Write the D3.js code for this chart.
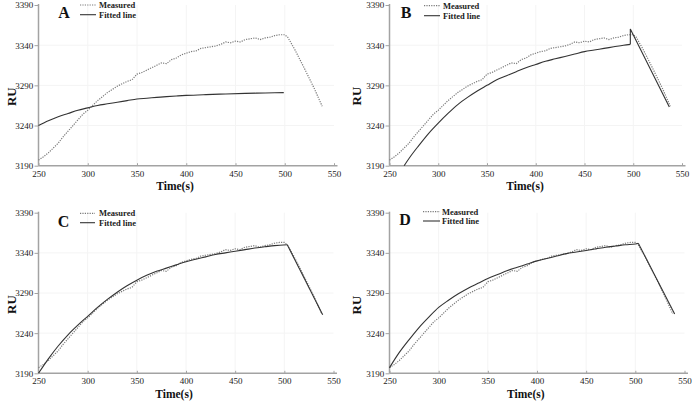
<!DOCTYPE html>
<html><head><meta charset="utf-8">
<script src="https://cdn.jsdelivr.net/npm/d3@7"></script>
<style>html,body{margin:0;padding:0;background:#fff;} svg{display:block;}</style>
</head><body>
<svg id="chart" width="693" height="403"></svg>
<script>
// ---------- data ----------
const measuredTime = [250,255,260,265,270,275,280,285,290,295,300,305,310,315,320,325,330,335,340,345,350,355,360,365,370,375,380,385,390,395,400,405,410,415,420,425,430,435,440,445,450,455,460,465,470,475,480,485,490,495,500,503,510,520,530,538];
const measuredRU   = [3197,3201,3206,3212,3218,3226,3233,3240,3247,3254,3259,3265,3271,3276,3281,3285,3289,3292,3295,3297,3304,3306,3309,3312,3315,3318,3317,3322,3324,3328,3330,3332,3333,3336,3337,3338,3339,3341,3344,3343,3345,3344,3347,3348,3349,3347,3349,3350,3352,3353,3353,3350,3335,3311,3286,3264];

const fitTimeA = [250,260,270,280,290,300,310,320,330,340,350,360,370,380,390,400,420,440,460,480,499];
const fitRUA   = [3240,3246,3251,3255,3259,3262,3265,3267,3269,3271,3273,3274,3275,3276,3276.8,3277.5,3278.5,3279.3,3280,3280.5,3281];

const fitTimeB = [265,270,280,290,300,310,320,330,340,350,360,370,380,390,400,410,420,430,440,450,460,470,480,490,497,497,537];
const fitRUB   = [3190,3199,3215,3230,3243,3255,3266,3275,3283,3290,3297,3302,3307,3312,3316,3320,3323,3326,3329,3332,3334,3336,3338,3340,3341,3360,3263];

const fitTimeC = [250,260,270,280,290,300,310,320,330,340,350,360,370,380,390,400,410,420,430,440,450,460,470,480,490,503,539];
const fitRUC   = [3190,3208,3224,3238,3250,3261,3272,3282,3291,3299,3306,3312,3317,3321,3325,3329,3332,3335,3338,3340,3342,3344,3346,3347.5,3349,3350,3263];

const fitTimeD = [250,260,270,280,290,300,310,320,330,340,350,360,370,380,390,400,410,420,430,440,450,460,470,480,490,500,503,540];
const fitRUD   = [3197,3216,3232,3247,3260,3272,3281,3289,3296,3302,3308,3313,3318,3322,3326,3330,3333,3336,3339,3341,3343,3345,3347,3348.5,3350,3351,3352,3264];

const xTicks = [250,300,350,400,450,500,550];
const yTicks = [3190,3240,3290,3340,3390];
const panelLetters = ["A","B","C","D"];
const legendLabels = ["Measured","Fitted line"];
const xTitle = "Time(s)";
const yTitle = "RU";

// ---------- layout ----------
const layout = [
  {x0:38.5, x1:334,   yb:165.7, yt:5,     letter:[64,17.5],   leg:{lx1:80, lx2:96, y1:5,     y2:14.7, tx:99},  xt:[175,190],   yt2:[12,96.7]},
  {x0:389.5,x1:682,   yb:165.7, yt:5,     letter:[406,17.7],  leg:{lx1:424,lx2:440,y1:5.7,   y2:15.7, tx:443}, xt:[525,190],   yt2:[357,96]},
  {x0:38.5, x1:333.5, yb:373.3, yt:212.7, letter:[63.5,226.7],leg:{lx1:80, lx2:95, y1:213.3, y2:222.7,tx:99},  xt:[174,397.5], yt2:[12,304.5]},
  {x0:389.5,x1:684.5, yb:373.3, yt:212.7, letter:[405,225],   leg:{lx1:423,lx2:440,y1:211.7, y2:221,  tx:442}, xt:[525.8,398], yt2:[356.5,305]}
];
const fits = [[fitTimeA,fitRUA],[fitTimeB,fitRUB],[fitTimeC,fitRUC],[fitTimeD,fitRUD]];

const FONT = "'Liberation Serif','Times New Roman',serif";
const measColor = "#7a7a7a", fitColor = "#333", axisColor = "#a3a3a3";
const svg = d3.select("#chart");

// split a fitted series into the smooth association phase and the straight remainder
function splitFit(ts, vs) {
  let k = 1;
  while (k < ts.length && ts[k] > ts[k-1] && vs[k] >= vs[k-1]) k++;
  const pts = ts.map((t,j)=>[t, vs[j]]);
  return { rise: pts.slice(0, k), rest: pts.slice(k - 1) };
}

layout.forEach((L, i) => {
  const x = d3.scaleLinear().domain([250,550]).range([L.x0, L.x1]);
  const y = d3.scaleLinear().domain([3190,3390]).range([L.yb, L.yt]);
  const g = svg.append("g");

  // faint grid
  g.selectAll(".gx").data(xTicks.slice(1,-1)).enter().append("line")
    .attr("x1", d=>x(d)).attr("x2", d=>x(d)).attr("y1", L.yt).attr("y2", L.yb)
    .attr("stroke", "#f4f4f4").attr("stroke-width", 1);
  g.selectAll(".gy").data(yTicks.slice(1,-1)).enter().append("line")
    .attr("x1", L.x0).attr("x2", L.x1).attr("y1", d=>y(d)).attr("y2", d=>y(d))
    .attr("stroke", "#f4f4f4").attr("stroke-width", 1);

  // axes
  const ax = g.append("g").attr("transform", `translate(0,${L.yb})`)
    .call(d3.axisBottom(x).tickValues(xTicks).tickSize(-2.5).tickSizeOuter(0).tickPadding(4.5).tickFormat(d3.format("d")));
  const ay = g.append("g").attr("transform", `translate(${L.x0},0)`)
    .call(d3.axisLeft(y).tickValues(yTicks).tickSize(4).tickSizeOuter(0).tickPadding(1.2).tickFormat(d3.format("d")));
  [ax, ay].forEach(a => {
    a.select(".domain").remove();
    a.selectAll("line").attr("stroke", axisColor).attr("stroke-width", 1);
    a.selectAll("text").attr("font-family", FONT).attr("font-size", 9).attr("fill", "#222");
  });
  g.append("line").attr("x1", L.x0).attr("x2", L.x1 + 3.5).attr("y1", L.yb).attr("y2", L.yb)
    .attr("stroke", axisColor).attr("stroke-width", 1.5);
  g.append("line").attr("x1", L.x0).attr("x2", L.x0).attr("y1", L.yt - 1).attr("y2", L.yb)
    .attr("stroke", axisColor).attr("stroke-width", 1.5);

  // lines
  const straight = d3.line().x(d=>x(d[0])).y(d=>y(d[1]));
  const smooth = d3.line().x(d=>x(d[0])).y(d=>y(d[1])).curve(d3.curveMonotoneX);
  const meas = measuredTime.map((t,k)=>[t, measuredRU[k]]);
  g.append("path").attr("d", straight(meas)).attr("fill","none")
    .attr("stroke", measColor).attr("stroke-width", 1.2).attr("stroke-dasharray", "1.2,1.2");
  const parts = splitFit(fits[i][0], fits[i][1]);
  g.append("path").attr("d", smooth(parts.rise)).attr("fill","none")
    .attr("stroke", fitColor).attr("stroke-width", 1.1);
  if (parts.rest.length > 1) {
    g.append("path").attr("d", straight(parts.rest)).attr("fill","none")
      .attr("stroke", fitColor).attr("stroke-width", 1.1);
  }

  // panel letter
  g.append("text").attr("x", L.letter[0]).attr("y", L.letter[1]).attr("text-anchor","middle")
    .attr("font-family", FONT).attr("font-weight","bold").attr("font-size", 16).attr("fill","#111")
    .text(panelLetters[i]);

  // legend
  const lg = L.leg;
  g.append("line").attr("x1", lg.lx1).attr("x2", lg.lx2).attr("y1", lg.y1).attr("y2", lg.y1)
    .attr("stroke", measColor).attr("stroke-width", 1.2).attr("stroke-dasharray", "1.2,1.2");
  g.append("line").attr("x1", lg.lx1).attr("x2", lg.lx2).attr("y1", lg.y2).attr("y2", lg.y2)
    .attr("stroke", fitColor).attr("stroke-width", 1.1);
  [lg.y1, lg.y2].forEach((yy, k) => {
    g.append("text").attr("x", lg.tx).attr("y", yy + 3).attr("font-family", FONT)
      .attr("font-weight","bold").attr("font-size", 8.5).attr("fill","#222").text(legendLabels[k]);
  });

  // axis titles
  g.append("text").attr("x", L.xt[0]).attr("y", L.xt[1]).attr("text-anchor","middle")
    .attr("font-family", FONT).attr("font-weight","bold").attr("font-size", 11.5).attr("fill","#111")
    .text(xTitle);
  g.append("text").attr("transform", `translate(${L.yt2[0] + 4.3},${L.yt2[1]}) rotate(-90)`)
    .attr("text-anchor","middle").attr("font-family", FONT).attr("font-weight","bold")
    .attr("font-size", 13).attr("fill","#111").text(yTitle);
});
</script>
</body></html>
